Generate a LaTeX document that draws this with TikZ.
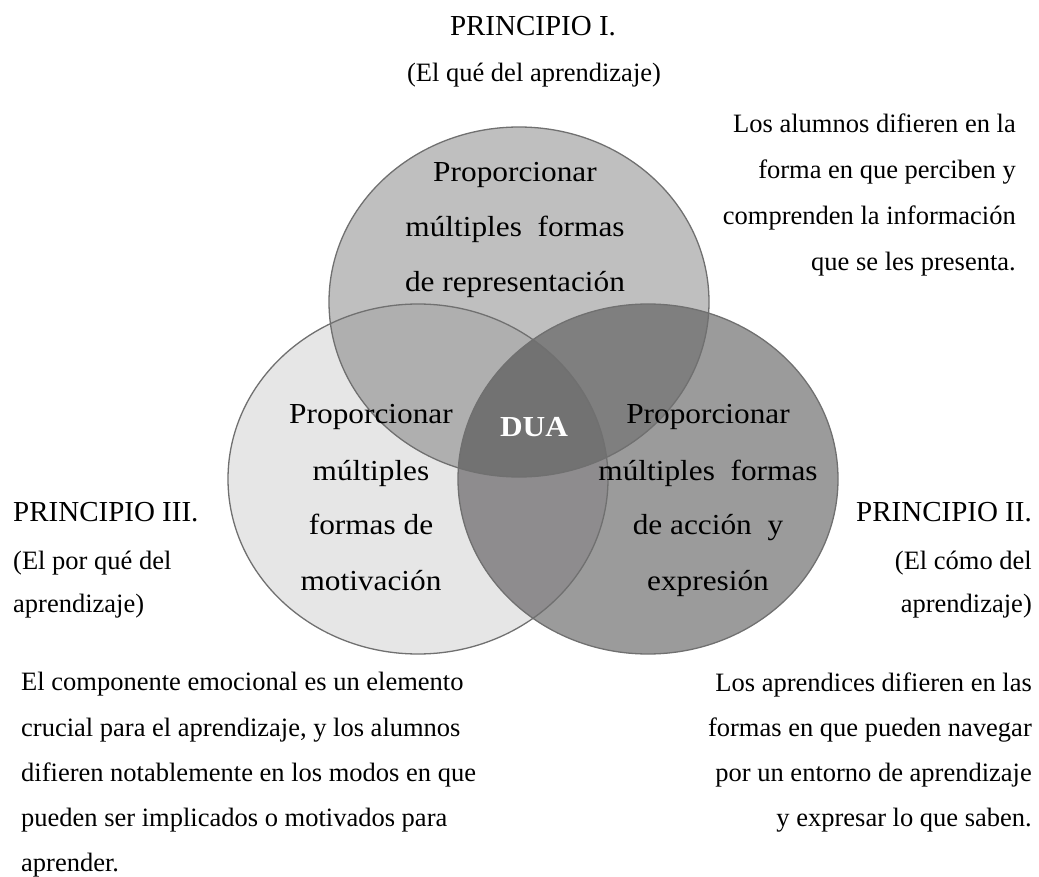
\documentclass[tikz,border=0pt]{standalone}
\usepackage{fontspec}
\setmainfont{Liberation Serif}
\newfontfamily\circfont[FakeStretch=1.08]{Liberation Serif}
\definecolor{cT}{RGB}{191,191,191}
\definecolor{cL}{RGB}{230,230,230}
\definecolor{cR}{RGB}{155,155,155}
\definecolor{cTL}{RGB}{175,175,175}
\definecolor{cTR}{RGB}{127,127,127}
\definecolor{cLR}{RGB}{142,140,142}
\definecolor{cTLR}{RGB}{114,114,114}
\definecolor{lineGray}{RGB}{112,112,112}
\tikzset{
  hdr/.style={font=\fontsize{29}{34}\selectfont, inner sep=0pt},
  bodytxt/.style={font=\fontsize{26.5}{32}\selectfont, inner sep=0pt},
  ctext/.style={font=\circfont\fontsize{29}{34}\selectfont, inner sep=0pt, anchor=base},
  outl/.style={draw=lineGray, line width=1.3pt},
  ell/.style={x radius=190pt, y radius=175pt}
}
\begin{document}
\begin{tikzpicture}[x=1pt,y=-1pt]
\useasboundingbox[fill=white] (0,0) rectangle (1039,877);
\coordinate (T) at (519,302);
\coordinate (L) at (418,479);
\coordinate (R) at (648,479);
% region fills
\fill[cL] (L) ellipse [ell];
\fill[cR] (R) ellipse [ell];
\fill[cT] (T) ellipse [ell];
\begin{scope}\clip (L) ellipse [ell]; \fill[cLR] (R) ellipse [ell];\end{scope}
\begin{scope}\clip (T) ellipse [ell]; \fill[cTL] (L) ellipse [ell];\end{scope}
\begin{scope}\clip (T) ellipse [ell]; \fill[cTR] (R) ellipse [ell];\end{scope}
\begin{scope}\clip (T) ellipse [ell]; \clip (L) ellipse [ell]; \fill[cTLR] (R) ellipse [ell];\end{scope}
% outlines
\draw[outl] (L) ellipse [ell];
\draw[outl] (R) ellipse [ell];
\draw[outl] (T) ellipse [ell];
% circle texts
\node[ctext] (t1) at (515,182) {Proporcionar};
\node[ctext] (t2) at (515,237) {múltiples\ \ formas};
\node[ctext] (t3) at (515,292) {de representación};
\node[ctext] (l1) at (371,423) {Proporcionar};
\node[ctext] (l2) at (371,480) {múltiples};
\node[ctext] (l3) at (371,534) {formas de};
\node[ctext] (l4) at (371,590) {motivación};
\node[ctext] (r1) at (708,423) {Proporcionar};
\node[ctext] (r2) at (708,480) {múltiples\ \ formas};
\node[ctext] (r3) at (708,534) {de acción\ \ y};
\node[ctext] (r4) at (708,590) {expresión};
\node[ctext, text=white, font=\circfont\bfseries\fontsize{29}{34}\selectfont] (dua) at (534,436) {DUA};
% headers
\node[hdr, anchor=base] (p1) at (533,36) {PRINCIPIO I.};
\node[bodytxt, anchor=base] (p1s) at (534,82) {(El qué del aprendizaje)};
\node[hdr, anchor=base west] (p3) at (13,521) {PRINCIPIO III.};
\node[bodytxt, anchor=base west] (p3a) at (13,569) {(El por qué del};
\node[bodytxt, anchor=base west] (p3b) at (13,612) {aprendizaje)};
\node[hdr, anchor=base east] (p2) at (1032,521) {PRINCIPIO II.};
\node[bodytxt, anchor=base east] (p2a) at (1032,569) {(El cómo del};
\node[bodytxt, anchor=base east] (p2b) at (1032,612) {aprendizaje)};
% top right description
\node[bodytxt, anchor=base east] (d1a) at (1016,133) {Los alumnos difieren en la};
\node[bodytxt, anchor=base east] (d1b) at (1016,179) {forma en que perciben y};
\node[bodytxt, anchor=base east] (d1c) at (1016,225) {comprenden la información};
\node[bodytxt, anchor=base east] (d1d) at (1016,271) {que se les presenta.};
% bottom right description
\node[bodytxt, anchor=base east] (d2a) at (1032,691) {Los aprendices difieren en las};
\node[bodytxt, anchor=base east] (d2b) at (1032,736) {formas en que pueden navegar};
\node[bodytxt, anchor=base east] (d2c) at (1032,781) {por un entorno de aprendizaje};
\node[bodytxt, anchor=base east] (d2d) at (1032,826) {y expresar lo que saben.};
% bottom left description
\node[bodytxt, anchor=base west] (d3a) at (21,690) {El componente emocional es un elemento};
\node[bodytxt, anchor=base west] (d3b) at (21,736) {crucial para el aprendizaje, y los alumnos};
\node[bodytxt, anchor=base west] (d3c) at (21,781) {difieren notablemente en los modos en que};
\node[bodytxt, anchor=base west] (d3d) at (21,826) {pueden ser implicados o motivados para};
\node[bodytxt, anchor=base west] (d3e) at (21,871) {aprender.};
\end{tikzpicture}
\end{document}
